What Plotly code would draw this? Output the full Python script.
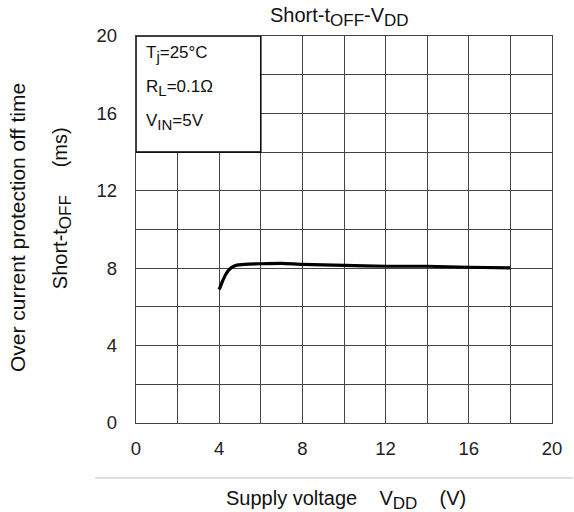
import plotly.graph_objects as go

# Short-circuit off time vs supply voltage (Tj=25°C)
vdd = [4.0, 4.15, 4.3, 4.5, 4.7, 4.9, 5.2, 6.0, 7.0, 8.0, 10.0, 12.0, 14.0, 16.0, 18.0]
t_off = [6.9, 7.3, 7.65, 7.95, 8.1, 8.17, 8.2, 8.23, 8.25, 8.2, 8.15, 8.1, 8.1, 8.05, 8.02]

x_ticks = [0, 4, 8, 12, 16, 20]
y_ticks = [0, 4, 8, 12, 16, 20]

FONT = "Liberation Sans, Arial, sans-serif"
GRID = "#444444"
TXT = "#111"
SP = "&nbsp;"


def sub(s, size):
    """Subscript that stays close to the base text size."""
    return f'<sub><span style="font-size:{size}px">{s}</span></sub>'


fig = go.Figure()
fig.add_trace(go.Scatter(
    x=vdd, y=t_off, mode="lines",
    line=dict(color="black", width=3.2, shape="spline", smoothing=0.6),
    showlegend=False, hoverinfo="skip",
))

axis_common = dict(
    showgrid=True, gridcolor=GRID, gridwidth=1.3,
    zeroline=False, showline=True, linecolor=GRID, linewidth=1.3, mirror=True,
    ticks="", tickfont=dict(family=FONT, size=18.5, color="#222"),
    minor=dict(showgrid=True, gridcolor=GRID, gridwidth=1.3, dtick=2),
)

fig.update_xaxes(range=[0, 20], tickvals=x_ticks, ticklabelstandoff=9, **axis_common)
fig.update_yaxes(range=[0, 20], tickvals=y_ticks, ticklabelstandoff=14, **axis_common)

# Condition box in the upper-left corner
fig.add_shape(type="rect", xref="x", yref="y", x0=0, x1=6, y0=14, y1=20,
              fillcolor="white", line=dict(color="black", width=1.5), layer="above")
cond = ["T" + sub("j", 15) + "=25°C", "R" + sub("L", 15) + "=0.1Ω", "V" + sub("IN", 15) + "=5V"]
for i, txt in enumerate(cond):
    fig.add_annotation(x=0.4, y=19.05 - i * 1.75, xref="x", yref="y", text=txt,
                       showarrow=False, xanchor="left", yanchor="middle",
                       font=dict(family=FONT, size=17, color=TXT))

# Separator line above the x-axis title
fig.add_shape(type="line", xref="paper", yref="paper", x0=-0.098, x1=1.05,
              y0=-0.142, y1=-0.142, line=dict(color="#bbbbbb", width=1))

fig.add_annotation(x=0.505, y=-0.2, xref="paper", yref="paper",
                   text="Supply voltage" + SP * 4 + "V" + sub("DD", 17) + SP * 4 + "(V)",
                   showarrow=False, xanchor="center", yanchor="middle",
                   font=dict(family=FONT, size=20, color=TXT))

fig.add_annotation(x=-0.285, y=0.505, xref="paper", yref="paper",
                   text="Over current protection off time", textangle=-90,
                   showarrow=False, xanchor="center", yanchor="middle",
                   font=dict(family=FONT, size=21, color=TXT))
fig.add_annotation(x=-0.178, y=0.555, xref="paper", yref="paper",
                   text="Short-t" + sub("OFF", 17) + SP * 5 + "(ms)", textangle=-90,
                   showarrow=False, xanchor="center", yanchor="middle",
                   font=dict(family=FONT, size=20, color=TXT))

fig.add_annotation(x=0.49, y=1.0, xref="paper", yref="paper", yshift=4,
                   text="Short-t" + sub("OFF", 17) + "-V" + sub("DD", 17), showarrow=False,
                   xanchor="center", yanchor="bottom",
                   font=dict(family=FONT, size=20, color=TXT))

fig.update_layout(
    width=574, height=512,
    margin=dict(l=136, r=17, t=36, b=89),
    paper_bgcolor="white", plot_bgcolor="white",
)

fig.write_html("out.html")
